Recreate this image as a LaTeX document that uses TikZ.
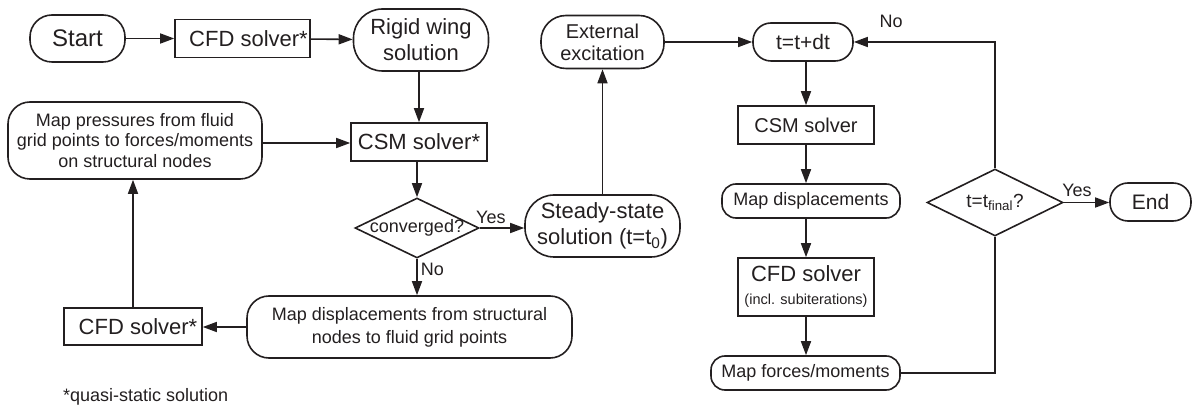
\documentclass[tikz,border=0pt]{standalone}
\usepackage{fontspec}
\setmainfont{Liberation Sans}
\usetikzlibrary{arrows.meta,shapes.geometric}
\definecolor{ink}{HTML}{231F20}

\tikzset{
  base/.style={draw=ink, line width=1.6pt, text=ink, inner sep=0pt, align=center},
  boxnode/.style={base, rectangle},
  pill/.style={base, rectangle, rounded corners=#1},
  pill/.default=20pt,
  decision/.style={base, diamond},
  flow/.style={draw=ink, line width=1.6pt, -{Triangle[length=14pt,width=10pt]}},
  link/.style={draw=ink, line width=1.6pt},
  lbl/.style={text=ink, inner sep=0pt},
  big/.style={font=\fontsize{22}{26}\selectfont},
  mid/.style={font=\fontsize{20}{22}\selectfont},
  small/.style={font=\fontsize{18}{20.5}\selectfont},
}

\begin{document}
\begin{tikzpicture}[x=1pt,y=-1pt]
\useasboundingbox (0,0) rectangle (1193,411);

% ---------- steady (static aeroelastic) loop ----------
\node[pill=22pt, font=\fontsize{24}{28}\selectfont, minimum width=95pt, minimum height=47pt] (start) at (77.5,38.5) {Start};
\node[boxnode, big, minimum width=135pt, minimum height=38pt] (cfdA) at (242.5,38.5) {\hspace*{12pt}CFD solver*};
\node[pill=29pt, big, minimum width=135pt, minimum height=62pt] (rigid) at (421,40) {Rigid wing\\solution};
\node[boxnode, big, minimum width=136pt, minimum height=38pt] (csmA) at (419,142) {CSM solver*};
\node[pill=22pt, small, minimum width=254pt, minimum height=77pt] (press) at (135,140.5)
  {Map pressures from fluid\\grid points to forces/moments\\on structural nodes};
\node[decision, small, minimum width=124pt, minimum height=60pt] (conv) at (417,228) {\makebox[0pt]{converged?}};
\node[pill=29pt, big, minimum width=155pt, minimum height=62pt] (steady) at (602.5,226)
  {Steady-state\\solution (t=t\textsubscript{0})};
\node[pill=22pt, font=\fontsize{18}{23}\selectfont, minimum width=325pt, minimum height=62pt] (dispA) at (409.5,327)
  {Map displacements from structural\\nodes to fluid grid points};
\node[boxnode, big, minimum width=138pt, minimum height=37pt] (cfdB) at (133,326.5) {\hspace*{10pt}CFD solver*};
\node[lbl, small, anchor=west] (note) at (63,397) {*quasi-static solution};

\draw[flow] (start) -- (cfdA);
\draw[flow] (cfdA) -- (rigid);
\draw[flow] (csmA.north |- rigid.south) -- (csmA.north);
\draw[flow] (conv.north |- csmA.south) -- (conv.north);
\draw[flow] (conv.east) -- (steady.west |- conv.east) node[lbl, small, pos=0.25, above=4pt] (yesA) {Yes};
\draw[flow] (conv.south) -- (conv.south |- dispA.north) node[lbl, small, pos=0.3, right=3pt] (noA) {No};
\draw[flow] (dispA.west) -- (cfdB.east |- dispA.west);
\draw[flow] (cfdB.north) -- (cfdB.north |- press.south);
\draw[flow] (press.east |- 0,143) -- (csmA.west |- 0,143);

% ---------- time-marching loop ----------
\node[pill=25pt, mid, minimum width=123pt, minimum height=53pt] (ext) at (602.5,42) {External\\excitation};
\node[pill=18pt, font=\fontsize{21}{24}\selectfont, minimum width=100pt, minimum height=38pt] (tdt) at (803,42) {t=t+dt};
\node[boxnode, mid, minimum width=136pt, minimum height=38pt] (csmB) at (806,125) {CSM solver};
\node[pill=14pt, small, minimum width=178pt, minimum height=34pt] (dispB) at (811,201) {Map displacements};
\node[boxnode, font=\fontsize{22}{26}\selectfont, minimum width=136pt, minimum height=58pt] (cfdC) at (806,287)
  {CFD solver\\[-3pt]{\fontsize{14.5}{17}\selectfont(incl. subiterations)}};
\node[pill=14pt, small, minimum width=189pt, minimum height=34pt] (force) at (805.5,373) {Map forces/moments};
\node[decision, font=\fontsize{19}{22}\selectfont, minimum width=136pt, minimum height=67pt] (tfin) at (995,202.5)
  {\makebox[0pt]{t=t\textsubscript{final}?}};
\node[pill=18pt, font=\fontsize{21}{24}\selectfont, minimum width=81pt, minimum height=38pt] (stop) at (1150.5,202) {End};
\coordinate (topturn) at (995,42);
\coordinate (botturn) at (995,373);

\draw[flow] (steady.north) -- (ext.south);
\draw[flow] (ext) -- (tdt);
\draw[flow] (csmB.north |- tdt.south) -- (csmB.north);
\draw[flow] (csmB.south) -- (csmB.south |- dispB.north);
\draw[flow] (csmB.south |- dispB.south) -- (cfdC.north);
\draw[flow] (cfdC.south) -- (cfdC.south |- force.north);
\draw[link] (force.east) -- (botturn) -- (tfin.south);
\draw[flow] (tfin.north) -- (topturn) -- (tdt.east);
\draw[flow] (tfin.east) -- (stop.west |- tfin.east);
\node[lbl, small] (yesB) at (1077,190) {Yes};
\node[lbl, small] (noB) at (891,21) {No};
\end{tikzpicture}
\end{document}
